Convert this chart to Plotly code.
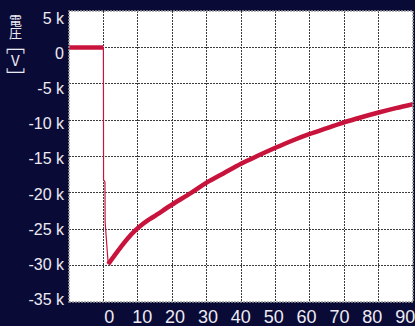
import plotly.graph_objects as go

# ---- data ----
pre_x = [-10, -5, 0]
pre_y = [0, 0, 0]

drop_x = [0, 0.05, 0.45, 0.5, 1.4]
drop_y = [0, -18200, -18500, -24000, -29800]

rec_x = [1.4, 5, 7, 9.2, 11, 13, 15, 20, 25.5, 30, 35, 40, 44.4, 50, 55, 60, 65, 70, 75, 80, 85, 90]
rec_y = [-29800, -27500, -26300, -25200, -24450, -23750, -23150, -21600, -20000, -18600,
         -17300, -16000, -15000, -13800, -12800, -11900, -11100, -10300, -9600, -8950,
         -8350, -7800]

x_ticks = [0, 10, 20, 30, 40, 50, 60, 70, 80, 90]
x_ticktext = ["0", "10", "20", "30", "40", "50", "60", "70", "80", "90"]
y_ticks = [5000, 0, -5000, -10000, -15000, -20000, -25000, -30000, -35000]
y_ticktext = ["5 k", "0", "-5 k", "-10 k", "-15 k", "-20 k", "-25 k", "-30 k", "-35 k"]
y_title_parts = ["電", "圧", "﹇", "V", "﹈"]

# ---- style ----
BG = "#0a0a37"
LINE = "#c8143c"
TXT = "#ecebf2"
W, H = 415, 326
ML, MR, MT, MB = 69, 2, 11, 24

fig = go.Figure()
fig.add_trace(go.Scatter(x=pre_x, y=pre_y, mode="lines",
                         line=dict(color=LINE, width=4.5), hoverinfo="skip", showlegend=False))
fig.add_trace(go.Scatter(x=drop_x, y=drop_y, mode="lines",
                         line=dict(color=LINE, width=1.2), hoverinfo="skip", showlegend=False))
fig.add_trace(go.Scatter(x=rec_x, y=rec_y, mode="lines", line_shape="spline",
                         line=dict(color=LINE, width=4.5, smoothing=1.0),
                         hoverinfo="skip", showlegend=False))
# carrier trace for the label axes
fig.add_trace(go.Scatter(x=[None], y=[None], xaxis="x2", yaxis="y2", mode="markers",
                         hoverinfo="skip", showlegend=False))

grid = dict(showgrid=True, gridcolor="#3c3c3c", gridwidth=1, griddash="2px,1px",
            zeroline=False, showline=False, showticklabels=False, ticks="",
            automargin=False)

fig.update_layout(
    width=W, height=H,
    margin=dict(l=ML, r=MR, t=MT, b=MB, autoexpand=False),
    paper_bgcolor=BG, plot_bgcolor="white",
    xaxis=dict(range=[-10, 90], tickvals=x_ticks, **grid),
    yaxis=dict(range=[-35000, 5000], tickvals=y_ticks, **grid),
    xaxis2=dict(overlaying="x", side="bottom", anchor="y2", range=[-12.26, 92.37],
                tickvals=x_ticks, ticktext=x_ticktext, showgrid=False, zeroline=False,
                showline=False, ticks="", automargin=False, ticklabelstandoff=2,
                ticklabeloverflow="allow",
                tickfont=dict(family="Liberation Sans Narrow, Arial Narrow, Liberation Sans",
                              size=18, color=TXT)),
    yaxis2=dict(overlaying="y", side="left", anchor="x2", range=[-35353, 6031],
                tickvals=y_ticks, ticktext=y_ticktext, showgrid=False, zeroline=False,
                showline=False, ticks="", ticklabelstandoff=4, automargin=False,
                ticklabeloverflow="allow",
                tickfont=dict(family="Liberation Sans, Arial", size=16, color=TXT)),
    shapes=[dict(type="rect", xref="paper", yref="paper", x0=0, x1=1, y0=0, y1=1,
                 line=dict(color="#9a9a9a", width=1.5, dash="2px,1px"))],
)

pw = W - ML - MR
ph = H - MT - MB
ys = [19, 32.5, 43, 60, 77]
sizes = [13, 13, 19, 15, 19]
for ch, py, sz in zip(y_title_parts, ys, sizes):
    fig.add_annotation(text=ch, xref="paper", yref="paper",
                       x=(15 - ML) / pw, y=(H - MB - py) / ph,
                       xanchor="center", yanchor="middle", showarrow=False,
                       font=dict(family="Noto Sans CJK JP, Liberation Sans", size=sz, color=TXT))

fig.write_html("out.html", config={"displayModeBar": False},
               post_script="document.body.style.margin='0px';document.body.style.overflow='hidden';")
